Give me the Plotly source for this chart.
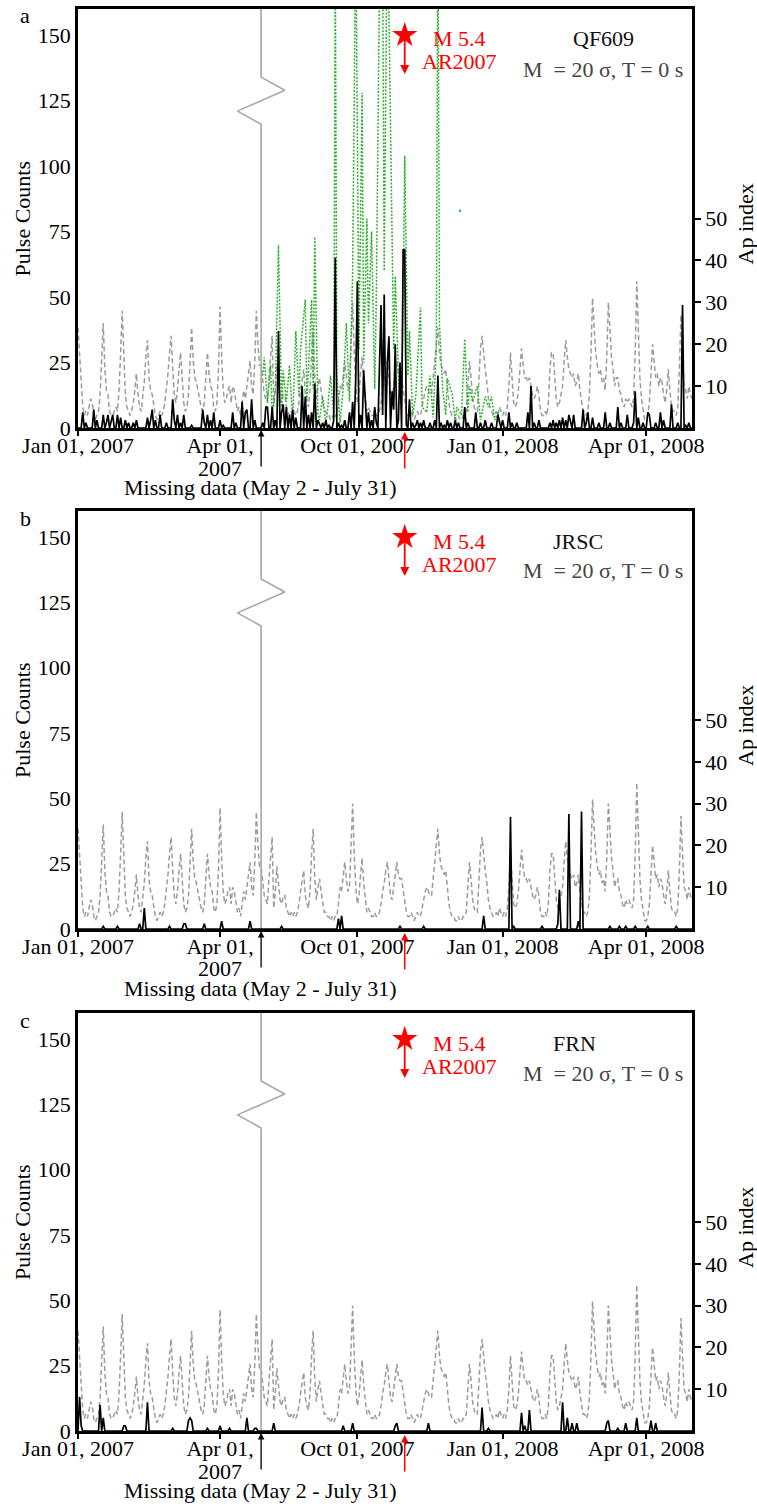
import pandas as pd
import plotly.graph_objects as go

FONT = "Liberation Serif"
W, H = 757, 1504

# Daily Ap index, 1 Jan - 26 Apr 2007
ap_jan_apr_2007 = [
    24, 18, 10, 5, 3, 4, 3, 5, 7, 6,
    3, 2, 3, 4, 8, 16, 25, 14, 9, 8,
    4, 3, 3, 4, 5, 4, 9, 18, 28, 18,
    8, 5, 4, 3, 4, 6, 9, 13, 8, 5,
    4, 7, 11, 17, 21, 12, 9, 8, 5, 3,
    2, 3, 4, 3, 4, 6, 9, 13, 18, 22,
    14, 8, 6, 9, 14, 18, 12, 6, 4, 5,
    8, 16, 24, 16, 12, 11, 9, 7, 5, 4,
    6, 12, 18, 13, 10, 9, 5, 4, 6, 14,
    29, 17, 9, 6, 7, 9, 10, 6, 10, 9,
    6, 4, 5, 3, 6, 9, 7, 10, 12, 16,
    10, 8, 16, 28, 20, 15,
]

# Daily Ap index, 1 Aug 2007 - 30 Apr 2008
ap_aug_2007_apr_2008 = [
    15, 11, 8, 7, 6, 12, 18, 22, 5, 9,
    15, 10, 7, 6, 8, 8, 5, 4, 3, 4,
    3, 4, 3, 4, 6, 9, 12, 14, 8, 6,
    5, 9, 18, 24, 12, 7, 10, 12, 9, 6,
    4, 4, 3, 3, 2, 3, 2, 3, 3, 6,
    10, 9, 12, 16, 12, 9, 10, 20, 30, 18,
    10, 6, 8, 13, 17, 11, 7, 4, 5, 4,
    3, 3, 4, 3, 3, 4, 6, 9, 11, 14,
    16, 12, 8, 7, 10, 14, 16, 13, 12, 12,
    9, 6, 4, 3, 3, 4, 3, 2, 3, 4,
    3, 3, 5, 7, 9, 10, 9, 8, 8, 12,
    17, 21, 24, 18, 15, 14, 13, 14, 10, 6,
    4, 3, 3, 2, 2, 3, 2, 2, 3, 3,
    4, 9, 16, 12, 7, 5, 4, 4, 12, 19,
    22, 17, 14, 11, 7, 5, 4, 3, 3, 4,
    3, 5, 4, 3, 4, 3, 5, 10, 18, 11,
    6, 5, 6, 9, 14, 19, 15, 12, 12, 11,
    12, 10, 8, 7, 8, 10, 8, 4, 3, 3,
    4, 3, 6, 14, 18, 18, 11, 7, 5, 6,
    8, 10, 16, 21, 17, 14, 13, 12, 13, 10,
    11, 13, 9, 6, 4, 4, 3, 4, 8, 18,
    31, 24, 18, 15, 13, 14, 11, 12, 9, 17,
    30, 24, 17, 14, 10, 12, 12, 9, 8, 6,
    5, 7, 6, 7, 6, 5, 7, 18, 35, 22,
    12, 7, 4, 2, 2, 3, 6, 14, 20, 16,
    12, 13, 10, 12, 11, 8, 6, 9, 14, 9,
    5, 4, 4, 3, 5, 14, 27, 18, 10, 9,
    7, 10, 8, 7,
]

# Daily pulse counts (days not listed had zero pulses)
qf609_counts = [
    ("2007-01-04", 6), ("2007-01-06", 2), ("2007-01-11", 7), ("2007-01-13", 3),
    ("2007-01-17", 5), ("2007-01-19", 2), ("2007-01-20", 5), ("2007-01-22", 3),
    ("2007-01-23", 5), ("2007-01-26", 5), ("2007-01-28", 4), ("2007-01-31", 3),
    ("2007-02-02", 2), ("2007-02-05", 2), ("2007-02-07", 3), ("2007-02-14", 4),
    ("2007-02-16", 3), ("2007-02-17", 7), ("2007-02-19", 3), ("2007-02-22", 5),
    ("2007-02-26", 2), ("2007-03-02", 11), ("2007-03-03", 3), ("2007-03-05", 5),
    ("2007-03-07", 2), ("2007-03-09", 5), ("2007-03-14", 1), ("2007-03-21", 7),
    ("2007-03-22", 2), ("2007-03-24", 5), ("2007-03-26", 3), ("2007-03-28", 6),
    ("2007-04-01", 3), ("2007-04-03", 1), ("2007-04-09", 6), ("2007-04-11", 2),
    ("2007-04-15", 10), ("2007-04-17", 6), ("2007-04-18", 7), ("2007-04-21", 11),
    ("2007-04-23", 3),
    ("2007-08-02", 2), ("2007-08-04", 8), ("2007-08-05", 8), ("2007-08-08", 8),
    ("2007-08-10", 3), ("2007-08-12", 37), ("2007-08-14", 6), ("2007-08-15", 9),
    ("2007-08-17", 8), ("2007-08-19", 5), ("2007-08-21", 7), ("2007-08-23", 4),
    ("2007-08-27", 16), ("2007-08-29", 12), ("2007-08-31", 5), ("2007-09-02", 6),
    ("2007-09-04", 17), ("2007-09-06", 3), ("2007-09-07", 1), ("2007-09-09", 2),
    ("2007-09-11", 3), ("2007-09-13", 1), ("2007-09-16", 3), ("2007-09-17", 65),
    ("2007-09-19", 2), ("2007-09-21", 1), ("2007-09-23", 3), ("2007-09-26", 6),
    ("2007-09-28", 10), ("2007-09-30", 20), ("2007-10-01", 56), ("2007-10-03", 5),
    ("2007-10-05", 22), ("2007-10-06", 10), ("2007-10-08", 6), ("2007-10-10", 3),
    ("2007-10-12", 8), ("2007-10-13", 2), ("2007-10-15", 30), ("2007-10-16", 47),
    ("2007-10-17", 5), ("2007-10-18", 51), ("2007-10-20", 25), ("2007-10-21", 35),
    ("2007-10-23", 14), ("2007-10-24", 7), ("2007-10-25", 32), ("2007-10-27", 3),
    ("2007-10-28", 25), ("2007-10-30", 68), ("2007-10-31", 68), ("2007-11-01", 1),
    ("2007-11-03", 11), ("2007-11-05", 2), ("2007-11-07", 1), ("2007-11-08", 3),
    ("2007-11-10", 2), ("2007-11-12", 3), ("2007-11-16", 2), ("2007-11-19", 3),
    ("2007-11-21", 20), ("2007-11-23", 2), ("2007-11-25", 1), ("2007-11-27", 3),
    ("2007-11-29", 2), ("2007-12-02", 3), ("2007-12-04", 2), ("2007-12-08", 8),
    ("2007-12-10", 2), ("2007-12-15", 6), ("2007-12-18", 2), ("2007-12-21", 3),
    ("2007-12-25", 2), ("2007-12-29", 5), ("2007-12-30", 2), ("2008-01-01", 3),
    ("2008-01-05", 6), ("2008-01-07", 2), ("2008-01-10", 2), ("2008-01-17", 6),
    ("2008-01-19", 16), ("2008-01-21", 2), ("2008-01-24", 3), ("2008-01-31", 2),
    ("2008-02-02", 3), ("2008-02-04", 2), ("2008-02-06", 3), ("2008-02-08", 4),
    ("2008-02-10", 3), ("2008-02-12", 5), ("2008-02-13", 2), ("2008-02-15", 5),
    ("2008-02-21", 7), ("2008-02-23", 2), ("2008-02-24", 6), ("2008-02-27", 4),
    ("2008-03-02", 2), ("2008-03-06", 6), ("2008-03-09", 2), ("2008-03-14", 8),
    ("2008-03-16", 2), ("2008-03-20", 5), ("2008-03-24", 2), ("2008-03-25", 14),
    ("2008-03-27", 4), ("2008-03-30", 2), ("2008-04-02", 6), ("2008-04-03", 5),
    ("2008-04-07", 2), ("2008-04-10", 6), ("2008-04-12", 3), ("2008-04-17", 9),
    ("2008-04-21", 2), ("2008-04-24", 47), ("2008-04-26", 1), ("2008-04-28", 2),
]

jrsc_counts = [
    ("2007-01-17", 1), ("2007-01-26", 1), ("2007-02-09", 2), ("2007-02-12", 8),
    ("2007-02-28", 1), ("2007-03-09", 2), ("2007-03-10", 2), ("2007-03-22", 2),
    ("2007-04-02", 3), ("2007-04-20", 3),
    ("2007-08-14", 1), ("2007-09-19", 4), ("2007-09-21", 5), ("2007-10-28", 1),
    ("2007-11-12", 1), ("2007-12-20", 5), ("2008-01-06", 43), ("2008-01-08", 1),
    ("2008-01-26", 1), ("2008-02-05", 2), ("2008-02-06", 15), ("2008-02-12", 44),
    ("2008-02-18", 3), ("2008-02-20", 45), ("2008-03-09", 1), ("2008-03-15", 1),
    ("2008-03-19", 1), ("2008-03-25", 1), ("2008-04-02", 1), ("2008-04-20", 1),
]

frn_counts = [
    ("2007-01-02", 13), ("2007-01-03", 2), ("2007-01-15", 10), ("2007-01-17", 5),
    ("2007-01-30", 2), ("2007-01-31", 2), ("2007-02-14", 11), ("2007-03-02", 1),
    ("2007-03-12", 4), ("2007-03-13", 5), ("2007-03-14", 4), ("2007-03-24", 1),
    ("2007-04-01", 2), ("2007-04-07", 1), ("2007-04-18", 5), ("2007-04-23", 1),
    ("2007-04-24", 1),
    ("2007-08-09", 3), ("2007-09-22", 2), ("2007-09-28", 3), ("2007-10-25", 2),
    ("2007-10-26", 3), ("2007-11-15", 3), ("2007-12-19", 9), ("2007-12-23", 1),
    ("2008-01-13", 7), ("2008-01-15", 2), ("2008-01-18", 8), ("2008-02-08", 11),
    ("2008-02-11", 5), ("2008-02-14", 3), ("2008-02-17", 3), ("2008-03-07", 3),
    ("2008-03-08", 4), ("2008-03-14", 1), ("2008-03-19", 3), ("2008-03-26", 5),
    ("2008-04-04", 4), ("2008-04-07", 3),
]

# Second QF609 record (green dotted), Aug - Dec 2007
qf609_second = [
    ("2007-08-02", 20), ("2007-08-03", 27), ("2007-08-05", 10), ("2007-08-07", 24),
    ("2007-08-08", 5), ("2007-08-10", 15), ("2007-08-12", 70), ("2007-08-14", 8),
    ("2007-08-15", 22), ("2007-08-17", 10), ("2007-08-19", 24), ("2007-08-21", 3),
    ("2007-08-23", 37), ("2007-08-25", 12), ("2007-08-26", 30), ("2007-08-29", 49),
    ("2007-08-30", 10), ("2007-09-02", 49), ("2007-09-03", 15), ("2007-09-04", 73),
    ("2007-09-06", 5), ("2007-09-07", 3), ("2007-09-09", 12), ("2007-09-11", 2),
    ("2007-09-12", 6), ("2007-09-14", 20), ("2007-09-16", 5), ("2007-09-17", 180),
    ("2007-09-18", 20), ("2007-09-20", 2), ("2007-09-22", 15), ("2007-09-24", 40),
    ("2007-09-26", 10), ("2007-09-28", 60), ("2007-09-30", 190), ("2007-10-02", 30),
    ("2007-10-04", 128), ("2007-10-05", 25), ("2007-10-07", 80), ("2007-10-08", 40),
    ("2007-10-10", 75), ("2007-10-12", 15), ("2007-10-13", 50), ("2007-10-15", 170),
    ("2007-10-17", 180), ("2007-10-18", 60), ("2007-10-20", 200), ("2007-10-22", 116),
    ("2007-10-24", 30), ("2007-10-25", 58), ("2007-10-27", 20), ("2007-10-29", 8),
    ("2007-10-30", 45), ("2007-10-31", 104), ("2007-11-02", 20), ("2007-11-03", 37),
    ("2007-11-05", 5), ("2007-11-07", 12), ("2007-11-10", 46), ("2007-11-11", 8),
    ("2007-11-14", 6), ("2007-11-16", 20), ("2007-11-18", 4), ("2007-11-20", 30),
    ("2007-11-21", 200), ("2007-11-22", 40), ("2007-11-24", 15), ("2007-11-26", 5),
    ("2007-11-27", 19), ("2007-11-30", 13), ("2007-12-02", 3), ("2007-12-03", 8),
    ("2007-12-06", 5), ("2007-12-08", 34), ("2007-12-10", 6), ("2007-12-11", 16),
    ("2007-12-13", 10), ("2007-12-16", 16), ("2007-12-18", 3), ("2007-12-21", 12),
    ("2007-12-23", 8), ("2007-12-25", 12), ("2007-12-27", 3), ("2007-12-29", 6),
    ("2007-12-30", 2),
]
qf609_second_single = [("2007-12-05", 83)]

stations = ["QF609", "JRSC", "FRN"]
station_label_x = [603, 578, 574]
panel_letters = ["a", "b", "c"]
station_counts = [qf609_counts, jrsc_counts, frn_counts]

event_date = "2007-10-31"
event_labels = ["M 5.4", "AR2007"]
threshold_label = "M\u00a0 = 20 σ, T = 0 s"
gap_bounds = ["2007-04-27", "2007-08-01"]
gap_label = "Missing data (May 2 - July 31)"

tick_dates = ["2007-01-01", "2007-04-01", "2007-10-01", "2008-01-01", "2008-04-01"]
tick_labels = ["Jan 01, 2007", "Apr 01,", "Oct 01, 2007", "Jan 01, 2008", "Apr 01, 2008"]
tick_second_line = ("2007-04-01", "2007")
pulse_ticks = [0, 25, 50, 75, 100, 125, 150]
ap_ticks = [10, 20, 30, 40, 50]

# Axis-break symbol drawn across the gap
break_marker_dates = ["2007-08-01", "2007-08-01", "2007-08-16", "2007-04-12", "2007-08-01", "2007-08-01"]
break_marker_levels = [160, 134, 129, 121, 116, 0]

# ---------------------------------------------------------------------------
dates_before = pd.date_range("2007-01-01", periods=len(ap_jan_apr_2007), freq="D")
dates_after = pd.date_range("2007-08-01", periods=len(ap_aug_2007_apr_2008), freq="D")
days = [d.strftime("%Y-%m-%d") for d in list(dates_before) + list(dates_after)]
ap_index = ap_jan_apr_2007 + ap_aug_2007_apr_2008


def daily(spikes):
    lookup = dict(spikes)
    return [lookup.get(d, 0) for d in days]


def px_x(p):
    return p / W


def px_y(p):
    return 1 - p / H


FS = 22
X_LEFT, X_RIGHT = 78, 692
panel_rows = [(9, 428), (511, 929), (1013, 1431)]

fig = go.Figure()
layout = dict(
    width=W, height=H,
    margin=dict(l=0, r=0, t=0, b=0),
    paper_bgcolor="white", plot_bgcolor="white",
    showlegend=False, hovermode=False,
    font=dict(family=FONT, size=FS, color="black"),
)
annotations = []


def label(text, x, y, color="black", angle=0, size=FS):
    return dict(text=text, x=px_x(x), y=px_y(y), xref="paper", yref="paper",
                xanchor="center", yanchor="middle", textangle=angle, showarrow=False,
                font=dict(family=FONT, size=size, color=color))


for i, (top, bottom) in enumerate(panel_rows):
    xa = "x" if i == 0 else f"x{i + 1}"
    ya_ap = "y" if i == 0 else f"y{2 * i + 1}"
    ya_pc = f"y{2 * i + 2}"
    xkey = "xaxis" if i == 0 else f"xaxis{i + 1}"
    ykey_ap = "yaxis" if i == 0 else f"yaxis{2 * i + 1}"
    ykey_pc = f"yaxis{2 * i + 2}"

    fig.add_trace(go.Scatter(
        x=days, y=ap_index, xaxis=xa, yaxis=ya_ap, mode="lines",
        line=dict(color="#9c9c9c", width=1.5, dash="5px,3px")))
    fig.add_trace(go.Scatter(
        x=break_marker_dates, y=break_marker_levels, xaxis=xa, yaxis=ya_pc, mode="lines",
        line=dict(color="#a8a8a8", width=1.6)))
    if i == 0:
        fig.add_trace(go.Scatter(
            x=[d for d, _ in qf609_second], y=[v for _, v in qf609_second],
            xaxis=xa, yaxis=ya_pc, mode="lines",
            line=dict(color="#2fb02f", width=1.5, dash="2px,1.5px")))
        fig.add_trace(go.Scatter(
            x=[d for d, _ in qf609_second_single], y=[v for _, v in qf609_second_single],
            xaxis=xa, yaxis=ya_pc, mode="markers",
            marker=dict(color="#2fb02f", size=2.5)))
    fig.add_trace(go.Scatter(
        x=days, y=daily(station_counts[i]), xaxis=xa, yaxis=ya_pc, mode="lines",
        line=dict(color="black", width=1.7)))
    fig.add_trace(go.Scatter(
        x=[event_date], y=[150], xaxis=xa, yaxis=ya_pc, mode="markers",
        marker=dict(symbol="star", size=19, color="red", line=dict(width=0))))

    tickfont = dict(family=FONT, size=FS, color="black")
    layout[xkey] = dict(
        domain=[px_x(X_LEFT), px_x(X_RIGHT)], anchor=ya_ap, type="date",
        range=["2007-01-01", "2008-04-30"],
        rangebreaks=[dict(bounds=gap_bounds)],
        tickmode="array", tickvals=tick_dates, ticktext=tick_labels,
        ticks="outside", ticklen=5, tickwidth=1.5, tickcolor="black",
        ticklabelstandoff=-9,
        showline=True, linewidth=2.5, linecolor="black", mirror=True,
        showgrid=False, zeroline=False, automargin=False, tickfont=tickfont,
    )
    layout[ykey_ap] = dict(
        domain=[px_y(bottom), px_y(top)], anchor=xa, side="right",
        range=[0, 100], tickmode="array", tickvals=ap_ticks,
        ticks="outside", ticklen=6, tickwidth=1.5, tickcolor="black",
        showline=True, linewidth=2.5, linecolor="black",
        showgrid=False, zeroline=False, automargin=False, tickfont=tickfont,
    )
    layout[ykey_pc] = dict(
        overlaying=ya_ap, anchor=xa, side="left",
        range=[0, 160], tickmode="array", tickvals=pulse_ticks, ticks="",
        showline=True, linewidth=2.5, linecolor="black",
        showgrid=False, zeroline=False, automargin=False, tickfont=tickfont,
    )

    mid = (top + bottom) / 2
    annotations += [
        label(panel_letters[i], 25, top + 7),
        label("Pulse Counts", 22, mid, angle=-90),
        label("Ap index", 745, mid + 6, angle=-90),
        label(stations[i], station_label_x[i], top + 30, color="#111111"),
        label(threshold_label, 603, top + 60, color="#444444"),
        label(event_labels[0], 459, top + 30, color="red"),
        label(event_labels[1], 459, top + 53, color="red"),
        dict(text=tick_second_line[1], x=tick_second_line[0], y=px_y(bottom + 40),
             xref=xa, yref="paper", xanchor="center", yanchor="middle", showarrow=False,
             font=dict(family=FONT, size=FS, color="black")),
        # event arrow below the star
        dict(text="", x=event_date, y=(bottom - (top + 65)) / (bottom - top) * 160,
             xref=xa, yref=ya_pc, ax=0, ay=-36, showarrow=True,
             arrowhead=2, arrowsize=1, arrowwidth=1.8, arrowcolor="red"),
        # event arrow under the time axis
        dict(text="", x=event_date, y=px_y(bottom + 4), xref=xa, yref="paper",
             ax=0, ay=38, showarrow=True,
             arrowhead=2, arrowsize=1, arrowwidth=1.5, arrowcolor="red"),
        # data gap arrow and label
        dict(text="", x=gap_bounds[1], y=px_y(bottom + 2), xref=xa, yref="paper",
             ax=0, ay=38, showarrow=True,
             arrowhead=2, arrowsize=1, arrowwidth=1.3, arrowcolor="black"),
        label(gap_label, 260, bottom + 59),
    ]

layout["annotations"] = annotations
fig.update_layout(**layout)
fig.write_html("out.html")
